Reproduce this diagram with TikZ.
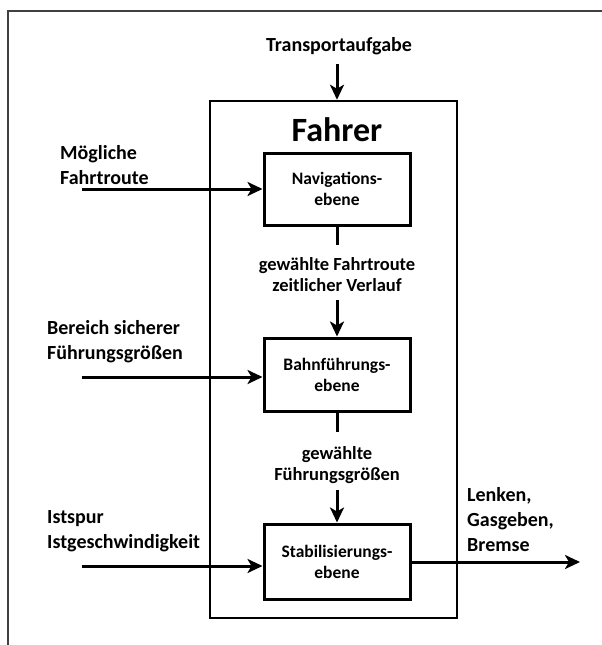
\documentclass[tikz,border=0pt]{standalone}
\usepackage{fontspec}
\setmainfont{Carlito}
\usetikzlibrary{arrows.meta}

\begin{document}
\begin{tikzpicture}[x=1pt,y=-1pt,
  lbl/.style={font=\bfseries\fontsize{20}{25}\selectfont, align=left, anchor=west, inner sep=0pt},
  midlbl/.style={font=\bfseries\fontsize{18.5}{21}\selectfont, align=center, inner sep=0pt},
  level/.style={draw, line width=3pt, minimum width=146pt, inner sep=0pt,
    font=\bfseries\fontsize{17.5}{21}\selectfont, align=center},
  flow/.style={line width=3pt},
  arr/.style={flow, -{Stealth[length=15pt,width=14pt,inset=4pt]}}]
\useasboundingbox (0,0) rectangle (602,645);

% page frame
\draw[black!75, line width=1.3pt] (602,11) -- (8,11) -- (8,645);

% driver block
\node[draw, line width=2.5pt, minimum width=247pt, minimum height=517pt, inner sep=0pt]
  (fahrer) at (333.5,359.5) {};
\node[font=\bfseries\fontsize{34}{34}\selectfont, inner sep=0pt] (title) at (337,130) {Fahrer};

% the three levels
\node[level, minimum height=72pt] (nav)  at (337,189)   {Navigations-\\ebene};
\node[level, minimum height=73pt] (bahn) at (337,374.5) {Bahnführungs-\\ebene};
\node[level, minimum height=75pt] (stab) at (337,561.5) {Stabilisierungs-\\ebene};

% task input
\node[midlbl, font=\bfseries\fontsize{20}{21}\selectfont] (task) at (339,46) {Transportaufgabe};
\coordinate (taskin) at (337,64);
\draw[arr] (taskin) -- (taskin |- fahrer.north);

% external inputs
\node[lbl] (l1) at (60,165) {Mögliche\\Fahrtroute};
\coordinate (in1) at (82,189);
\draw[arr] (in1) -- (nav.west);

\node[lbl] (l2) at (47,342) {Bereich sicherer\\Führungsgrößen};
\coordinate (in2) at (82,377);
\draw[arr] (in2) -- (in2 -| bahn.west);

\node[lbl] (l3) at (47,531) {Istspur\\Istgeschwindigkeit};
\coordinate (in3) at (82,566);
\draw[arr] (in3) -- (in3 -| stab.west);

% navigation -> guidance
\coordinate (n1) at (337,245);
\draw[flow] (nav.south) -- (n1);
\node[midlbl] (g1) at (337,275) {gewählte Fahrtroute\\zeitlicher Verlauf};
\coordinate (n2) at (337,300);
\draw[arr] (n2) -- (bahn.north);

% guidance -> stabilisation
\coordinate (b1) at (337,432);
\draw[flow] (bahn.south) -- (b1);
\node[midlbl] (g2) at (337,465) {gewählte\\Führungsgrößen};
\coordinate (b2) at (337,490);
\draw[arr] (b2) -- (stab.north);

% output
\node[lbl] (l4) at (467,520) {Lenken,\\Gasgeben,\\Bremse};
\coordinate (out) at (580,562);
\draw[arr] (stab.east |- out) -- (out);
\end{tikzpicture}
\end{document}
